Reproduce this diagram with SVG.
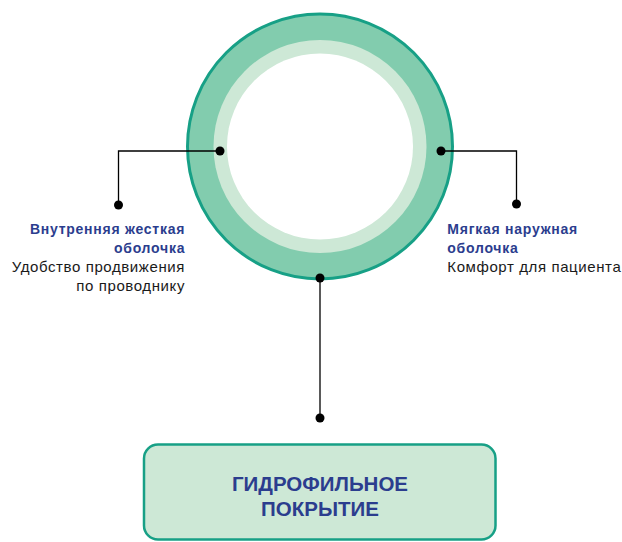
<svg xmlns="http://www.w3.org/2000/svg" width="622" height="542" viewBox="0 0 622 542">
<style>
.t{font-family:"Liberation Sans",Arial,sans-serif;font-size:15px;letter-spacing:0.6px;}
.h{font-weight:bold;fill:#2b3d8e;font-size:14px;letter-spacing:0.75px;}
.b{fill:#1a1a1a;}
.c{fill:none;stroke:#000;stroke-width:1.3;}
.d{fill:#000;}
.tt{font-family:"Liberation Sans",Arial,sans-serif;font-weight:bold;font-size:20.5px;fill:#2b3d8e;}
</style>
<rect width="622" height="542" fill="#fff"/>
<g id="tube">
<circle cx="320" cy="146.5" r="132.5" fill="#82ccae" stroke="#17a086" stroke-width="3"/>
<circle cx="320" cy="146.5" r="106.5" fill="#cde8d6"/>
<circle cx="320" cy="146.5" r="93" fill="#fff"/>
</g>
<g id="connectors">
<polyline class="c" points="220,151 118.5,151 118.5,205"/>
<polyline class="c" points="441,151 516.5,151 516.5,204"/>
<line class="c" x1="320" y1="278" x2="320" y2="418"/>
<circle class="d" cx="220" cy="151" r="4.5"/>
<circle class="d" cx="118.5" cy="205" r="4.5"/>
<circle class="d" cx="441" cy="151" r="4.5"/>
<circle class="d" cx="516.5" cy="204" r="4.5"/>
<circle class="d" cx="320" cy="278" r="4.5"/>
<circle class="d" cx="320" cy="418" r="4.5"/>
</g>
<g id="inner-label">
<text class="t h" x="185.2" y="234" text-anchor="end">Внутренняя жесткая</text>
<text class="t h" x="185.2" y="252.7" text-anchor="end">оболочка</text>
<text class="t b" x="185" y="271.7" text-anchor="end">Удобство продвижения</text>
<text class="t b" x="185" y="291" text-anchor="end">по проводнику</text>
</g>
<g id="outer-label">
<text class="t h" x="447.3" y="234">Мягкая наружная</text>
<text class="t h" x="447.3" y="252.7">оболочка</text>
<text class="t b" x="447.3" y="271.5">Комфорт для пациента</text>
</g>
<g id="coating">
<rect x="144" y="444.5" width="351.5" height="95" rx="14" fill="#cde8d6" stroke="#17a086" stroke-width="2.5"/>
<text class="tt" x="320" y="491" text-anchor="middle">ГИДРОФИЛЬНОЕ</text>
<text class="tt" x="320" y="516" text-anchor="middle">ПОКРЫТИЕ</text>
</g>
</svg>
